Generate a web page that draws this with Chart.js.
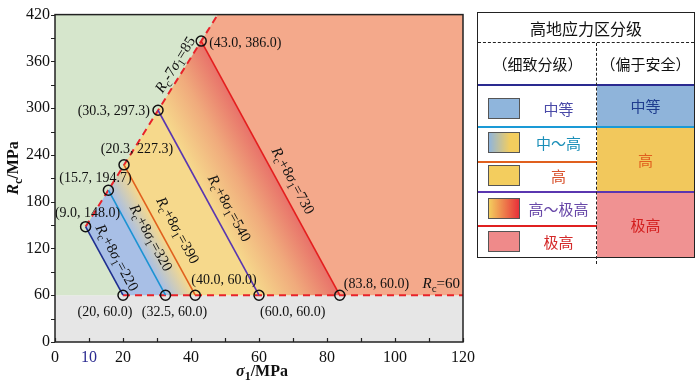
<!DOCTYPE html>
<html lang="zh">
<head>
  <meta charset="UTF-8" />
  <title>高地应力区分级</title>
  <script src="https://cdn.jsdelivr.net/npm/chart.js"></script>
  <style>
    body { margin: 0; background: #fff; }
    #wrap { position: relative; width: 700px; height: 385px; overflow: hidden; }
    #c { position: absolute; left: 0; top: 0; }
    .lg { position: absolute; left: 477px; top: 12px; width: 218px; height: 246px; border: 1.5px solid #222;
          box-sizing: border-box; font-family: "Noto Sans CJK SC", sans-serif; color: #111; background: #fff; }
    .lg div { position: absolute; box-sizing: border-box; }
    .cell { text-align: center; font-size: 15px; }
    .sw { left: 10px; width: 32px; height: 21px; border: 1px solid #555; }
  </style>
</head>
<body>
<div id="wrap">
  <canvas id="c" width="700" height="385"></canvas>

  <!-- legend table -->
  <div class="lg">
    <div class="cell" style="left:0;top:0;width:100%;height:30px;line-height:30px;font-size:16px;">高地应力区分级</div>
    <div style="left:0;top:29px;width:100%;border-top:1.5px dashed #222;"></div>
    <div class="cell" style="left:0;top:30px;width:119px;height:42px;line-height:42px;">（细致分级）</div>
    <div class="cell" style="left:119px;top:30px;width:97px;height:42px;line-height:42px;">（偏于安全）</div>

    <div class="cell" style="left:119px;top:72px;width:97px;height:42px;line-height:42px;background:#8fb4da;color:#1f3d8f;">中等</div>
    <div class="cell" style="left:119px;top:114px;width:97px;height:65px;line-height:65px;background:#f2c85c;color:#e0601e;">高</div>
    <div class="cell" style="left:119px;top:179px;width:97px;height:65px;line-height:65px;background:#f09292;color:#d42020;">极高</div>

    <div style="left:0;top:71px;width:100%;border-top:2px solid #2a2a90;"></div>
    <div style="left:0;top:113px;width:100%;border-top:2px solid #1a9ad6;"></div>
    <div style="left:0;top:148px;width:119px;border-top:2px solid #e0601e;"></div>
    <div style="left:0;top:178px;width:100%;border-top:2px solid #5a36b0;"></div>
    <div style="left:0;top:212px;width:119px;border-top:2px solid #e02020;"></div>
    <div style="left:118px;top:30px;height:221px;border-left:1.5px dashed #222;"></div>

    <div class="sw" style="top:85px;background:#8fb5dc;"></div>
    <div class="sw" style="top:119px;background:linear-gradient(to right,#8fb5dc,#f3cd5e 70%);"></div>
    <div class="sw" style="top:152px;background:#f3cd5e;"></div>
    <div class="sw" style="top:185px;background:linear-gradient(to right,#f3cd5e,#e8303a);"></div>
    <div class="sw" style="top:218px;background:#ef8a8a;"></div>

    <div class="cell" style="left:42px;top:84px;width:77px;height:24px;line-height:24px;color:#4a4aa8;">中等</div>
    <div class="cell" style="left:42px;top:118px;width:77px;height:24px;line-height:24px;color:#1b8fb8;">中～高</div>
    <div class="cell" style="left:42px;top:151px;width:77px;height:24px;line-height:24px;color:#d8502a;">高</div>
    <div class="cell" style="left:42px;top:184px;width:77px;height:24px;line-height:24px;color:#6848a8;">高～极高</div>
    <div class="cell" style="left:42px;top:217px;width:77px;height:24px;line-height:24px;color:#d42a2a;">极高</div>
  </div>
</div>

<script>
  // Rc + 8*sigma1 = level, from the Rc - 7*sigma1 = 85 boundary down to Rc = 60
  const levels = [220, 320, 390, 540, 730];
  const topSigma = [9.0, 15.7, 20.3, 30.3, 43.0];
  const topRc = [148.0, 194.7, 227.3, 297.3, 386.0];
  const bottomSigma = [20, 32.5, 41.25, 60, 83.75];
  const bottomRc = [60, 60, 60, 60, 60];
  const topLabels = ['(9.0, 148.0)', '(15.7, 194.7)', '(20.3, 227.3)', '(30.3, 297.3)', '(43.0, 386.0)'];
  const bottomLabels = ['(20, 60.0)', '(32.5, 60.0)', '(40.0, 60.0)', '(60.0, 60.0)', '(83.8, 60.0)'];
  const lineColors = ['#1f2f8f', '#1c93d2', '#e0601e', '#5a36b0', '#e41e1e'];

  // dashed limits: Rc - 7σ1 = 85 and Rc = 60
  const slopeLine = [[9.0, 148.0], [47.86, 420]];
  const baseLine = [[20, 60], [120, 60]];

  const xTickLabels = [0, 10, 20, 40, 60, 80, 100, 120];
  const yTickLabels = [0, 60, 120, 180, 240, 300, 360, 420];

  const serif = '"Liberation Serif", "Times New Roman", serif';

  // rich text: parts = [text, flags]; flags: i italic, s subscript, b bold
  function rich(ctx, parts, x, y, ang, size, align, color) {
    ctx.save();
    ctx.translate(x, y);
    ctx.rotate(ang);
    const f = st => (st.includes('i') ? 'italic ' : '') + (st.includes('b') ? 'bold ' : '') +
      (st.includes('s') ? Math.round(size * 0.72) : size) + 'px ' + serif;
    let w = 0;
    parts.forEach(([t, st]) => { ctx.font = f(st); w += ctx.measureText(t).width; });
    let cx = align === 'center' ? -w / 2 : align === 'right' ? -w : 0;
    ctx.textBaseline = 'middle';
    ctx.textAlign = 'left';
    ctx.fillStyle = color || '#111';
    parts.forEach(([t, st]) => {
      ctx.font = f(st);
      ctx.fillText(t, cx, st.includes('s') ? size * 0.3 : 0);
      cx += ctx.measureText(t).width;
    });
    ctx.restore();
  }

  const zones = {
    id: 'zones',
    beforeDatasetsDraw(chart) {
      const { ctx, chartArea: a, scales: { x, y } } = chart;
      const P = (s, r) => [x.getPixelForValue(s), y.getPixelForValue(r)];
      const poly = (pts, fill) => {
        ctx.beginPath();
        pts.forEach(([s, r], i) => { const [px, py] = P(s, r); i ? ctx.lineTo(px, py) : ctx.moveTo(px, py); });
        ctx.closePath();
        ctx.fillStyle = fill;
        ctx.fill();
      };
      ctx.save();
      ctx.beginPath(); ctx.rect(a.left, a.top, a.width, a.height); ctx.clip();
      poly([[0, 0], [120, 0], [120, 60], [0, 60]], '#e6e6e6');
      poly([[0, 60], [120, 60], [120, 420], [0, 420]], '#d6e6cc');

      // gradient across Rc + 8σ1 from 220 to 730
      const kx = x.getPixelForValue(1) - x.getPixelForValue(0);
      const ky = y.getPixelForValue(0) - y.getPixelForValue(1);
      const gx = 8 / kx, gy = -1 / ky, g2 = gx * gx + gy * gy;
      const [ax, ay] = P(bottomSigma[0], 60);
      const span = levels[4] - levels[0];
      const grad = ctx.createLinearGradient(ax, ay, ax + gx * span / g2, ay + gy * span / g2);
      const stop = v => (v - levels[0]) / span;
      grad.addColorStop(0, '#a8bfe6');
      grad.addColorStop(stop(320), '#a8bfe6');
      grad.addColorStop(stop(390), '#f6d98c');
      grad.addColorStop(stop(540), '#f6d98c');
      grad.addColorStop(stop(640), '#f0aa7c');
      grad.addColorStop(1, '#e8726a');
      poly([[topSigma[0], topRc[0]], [topSigma[4], topRc[4]], [bottomSigma[4], 60], [bottomSigma[0], 60]], grad);
      poly([[topSigma[4], topRc[4]], slopeLine[1], [120, 420], [120, 60], [bottomSigma[4], 60]], '#f4a98b');
      ctx.restore();
    },
    afterDatasetsDraw(chart) {
      const { ctx, scales: { x, y } } = chart;
      const P = (s, r) => [x.getPixelForValue(s), y.getPixelForValue(r)];

      // point labels
      const topPos = [['center', 2, -13], ['center', -13, -12], ['center', 13, -15], ['right', -8, 1], ['left', 8, 2]];
      const botPos = [['center', -18, 17], ['center', 9, 17], ['left', -4, -15], ['left', 1, 17], ['left', 4, -11]];
      levels.forEach((v, i) => {
        const [tx, ty] = P(topSigma[i], topRc[i]);
        const [bx, by] = P(bottomSigma[i], bottomRc[i]);
        rich(ctx, [[topLabels[i], '']], tx + topPos[i][1], ty + topPos[i][2], 0, 14, topPos[i][0]);
        rich(ctx, [[bottomLabels[i], '']], bx + botPos[i][1], by + botPos[i][2], 0, 14, botPos[i][0]);

        // line formula label
        const along = [0.54, 0.52, 0.56, 0.57, 0.575][i];
        const off = [12, 14, 15, 15, 13][i];
        const ang = Math.atan2(by - ty, bx - tx);
        const cx = tx + (bx - tx) * along + Math.sin(ang) * off;
        const cy = ty + (by - ty) * along - Math.cos(ang) * off;
        rich(ctx, [['R', 'i'], ['c', 's'], ['+8', ''], ['σ', 'i'], ['1', 's'], ['=' + v, '']], cx, cy, ang, 15, 'center');
      });

      // Rc - 7σ1 = 85
      const [sx1, sy1] = P(slopeLine[0][0], slopeLine[0][1]);
      const [sx2, sy2] = P(slopeLine[1][0], slopeLine[1][1]);
      const a2 = Math.atan2(sy2 - sy1, sx2 - sx1);
      const t = 0.74;
      rich(ctx, [['R', 'i'], ['c', 's'], ['-7', ''], ['σ', 'i'], ['1', 's'], ['=85', '']],
        sx1 + (sx2 - sx1) * t + Math.sin(a2) * 9, sy1 + (sy2 - sy1) * t - Math.cos(a2) * 9, a2, 15, 'center');

      // Rc = 60
      const [rx, ry] = P(120, 60);
      rich(ctx, [['R', 'i'], ['c', 's'], ['=60', '']], rx - 3, ry - 11, 0, 15, 'right');
    },
    afterDraw(chart) {
      const { ctx, chartArea: a, scales: { x, y } } = chart;
      ctx.save();
      ctx.strokeStyle = '#222';
      ctx.lineWidth = 1.2;
      ctx.beginPath();
      for (let v = 0; v <= 120; v += 10) {
        const px = Math.round(x.getPixelForValue(v)) + 0.5;
        ctx.moveTo(px, a.bottom); ctx.lineTo(px, a.bottom - 4);
      }
      for (let v = 0; v <= 420; v += 30) {
        const py = Math.round(y.getPixelForValue(v)) + 0.5;
        ctx.moveTo(a.left, py); ctx.lineTo(a.left - 4, py);
      }
      ctx.stroke();
      ctx.lineWidth = 1.5;
      ctx.strokeRect(a.left, a.top, a.width, a.height);
      ctx.restore();

      // axis titles
      rich(ctx, [['σ', 'ib'], ['1', 'sb'], ['/MPa', 'b']], (a.left + a.right) / 2 + 3, 372, 0, 16, 'center');
      rich(ctx, [['R', 'ib'], ['c', 'sb'], ['/MPa', 'b']], 14, 168, -Math.PI / 2, 16, 'center');
    }
  };

  const circlePts = [];
  levels.forEach((v, i) => {
    circlePts.push({ x: topSigma[i], y: topRc[i] });
    circlePts.push({ x: bottomSigma[i], y: bottomRc[i] });
  });

  const datasets = [
    { data: circlePts, showLine: false, pointRadius: 5, pointBorderWidth: 1.5,
      pointBorderColor: '#111', pointBackgroundColor: 'rgba(0,0,0,0)' },
    ...levels.map((v, i) => ({
      data: [{ x: topSigma[i], y: topRc[i] }, { x: bottomSigma[i], y: bottomRc[i] }],
      showLine: true, borderColor: lineColors[i], borderWidth: 1.6, pointRadius: 0
    })),
    { data: slopeLine.map(p => ({ x: p[0], y: p[1] })), showLine: true, borderColor: '#e8232a',
      borderWidth: 2, borderDash: [7, 5], pointRadius: 0 },
    { data: baseLine.map(p => ({ x: p[0], y: p[1] })), showLine: true, borderColor: '#e8232a',
      borderWidth: 2, borderDash: [7, 5], pointRadius: 0 }
  ];

  new Chart(document.getElementById('c'), {
    type: 'scatter',
    data: { datasets },
    options: {
      responsive: false,
      animation: false,
      devicePixelRatio: 1,
      layout: { padding: { top: 8, right: 237, left: 0, bottom: 0 } },
      plugins: { legend: { display: false }, tooltip: { enabled: false } },
      scales: {
        x: {
          type: 'linear', min: 0, max: 120,
          grid: { display: false, drawTicks: false }, border: { display: false },
          ticks: {
            stepSize: 10, autoSkip: false, maxRotation: 0, padding: 6,
            font: { family: serif, size: 16 },
            color: c => c.tick && c.tick.value === 10 ? '#2a2a90' : '#111',
            callback: v => xTickLabels.includes(v) ? String(v) : ''
          },
          afterFit: s => { s.height = 43; }
        },
        y: {
          type: 'linear', min: 0, max: 420,
          grid: { display: false, drawTicks: false }, border: { display: false },
          ticks: {
            stepSize: 30, autoSkip: false, padding: 5,
            font: { family: serif, size: 16 }, color: '#111',
            callback: v => yTickLabels.includes(v) ? String(v) : ''
          },
          afterFit: s => { s.width = 55; }
        }
      }
    },
    plugins: [zones]
  });
</script>
</body>
</html>
